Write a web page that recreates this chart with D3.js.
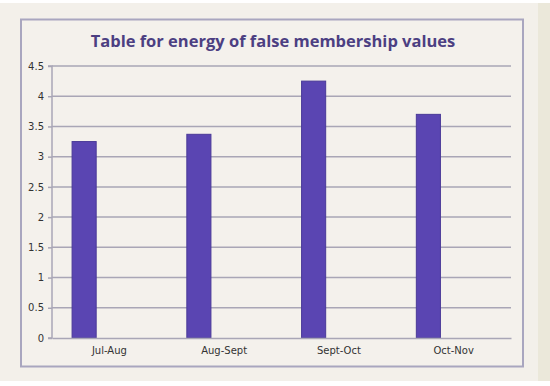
<!DOCTYPE html>
<html>
<head>
<meta charset="utf-8">
<script src="https://cdn.jsdelivr.net/npm/d3@7"></script>
<style>
html,body{margin:0;padding:0;background:#ffffff;}
svg{display:block;}
</style>
</head>
<body>
<svg id="chart" width="550" height="386"></svg>
<script>
const categories = ["Jul-Aug", "Aug-Sept", "Sept-Oct", "Oct-Nov"];
const values = [3.25, 3.37, 4.25, 3.7];
const yTicks = [0, 0.5, 1, 1.5, 2, 2.5, 3, 3.5, 4, 4.5];
const title = "Table for energy of false membership values";

const svg = d3.select("#chart");
const W = 550, H = 386;

// page background
svg.append("rect").attr("x", 0).attr("y", 3).attr("width", 538).attr("height", 378).attr("fill", "#f3f0ea");
svg.append("rect").attr("x", 538).attr("y", 3).attr("width", 12).attr("height", 378).attr("fill", "#ebe8da");

// chart frame
svg.append("rect").attr("x", 21).attr("y", 19.5).attr("width", 502).attr("height", 347)
  .attr("fill", "#f4f1ec").attr("stroke", "#a9a6bf").attr("stroke-width", 2);

const m = {left: 52, right: 511, top: 66, bottom: 338};

const x = d3.scaleBand().domain(categories).range([m.left, m.right]).padding(0);
const y = d3.scaleLinear().domain([0, 4.5]).range([m.bottom, m.top]);

// gridlines
svg.append("g").selectAll("line").data(yTicks.filter(d => d > 0)).join("line")
  .attr("x1", m.left).attr("x2", m.right)
  .attr("y1", d => y(d)).attr("y2", d => y(d))
  .attr("stroke", "#a9a6b6").attr("stroke-width", 1.5);

// bars
const bw = x.bandwidth();
svg.append("g").selectAll("rect").data(values).join("rect")
  .attr("x", (d, i) => x(categories[i]) + bw * 0.175)
  .attr("width", bw * 0.21)
  .attr("y", d => y(d))
  .attr("height", d => y(0) - y(d))
  .attr("fill", "#5a45b2").attr("stroke", "#4a3a98").attr("stroke-width", 1);

// y axis
const yAxis = d3.axisLeft(y).tickValues(yTicks).tickSize(4).tickPadding(4)
  .tickFormat(d => String(d));
const gy = svg.append("g").attr("transform", `translate(${m.left},0)`).call(yAxis);
gy.select(".domain").attr("stroke", "#a9a6b6").attr("stroke-width", 1.5).attr("d", `M-4,${m.top}H0V${m.bottom}H-4`);
gy.selectAll(".tick line").attr("stroke", "#a9a6b6").attr("stroke-width", 1.5);
gy.selectAll(".tick text").attr("fill", "#333").style("font-family", "'DejaVu Sans', sans-serif").style("font-size", "10px");

// x axis
const xAxis = d3.axisBottom(x).tickSize(0).tickPadding(9);
const gx = svg.append("g").attr("transform", `translate(0,${m.bottom})`).call(xAxis);
gx.select(".domain").attr("stroke", "#a9a6b6").attr("stroke-width", 1.5);
gx.selectAll(".tick text").attr("fill", "#333").style("font-family", "'DejaVu Sans', sans-serif").style("font-size", "10px");

// title
svg.append("text").attr("x", 273).attr("y", 47).attr("text-anchor", "middle")
  .attr("fill", "#4c3f82").style("font-family", "'Open Sans', sans-serif").style("font-weight", "bold").style("font-size", "16.5px")
  .text(title);
</script>
</body>
</html>
